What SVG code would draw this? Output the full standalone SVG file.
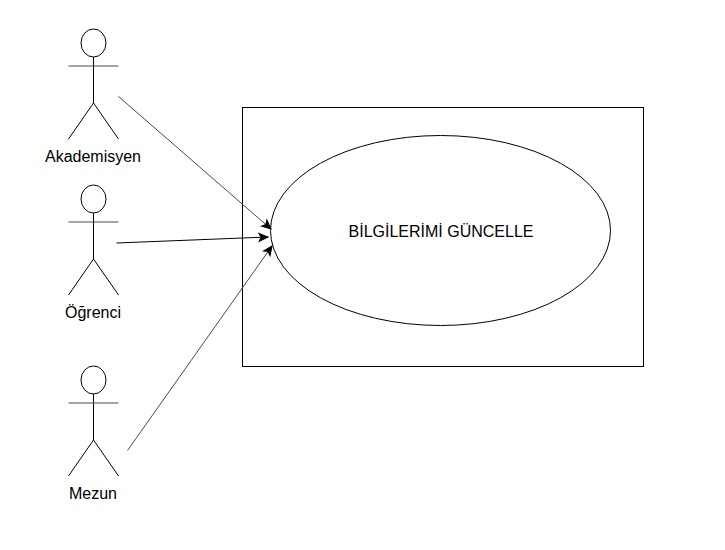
<svg xmlns="http://www.w3.org/2000/svg" width="725" height="550" viewBox="0 0 725 550">
<style>
.s{fill:#fff;stroke:#000;stroke-width:1}
.l{fill:none;stroke:#000;stroke-width:1}
.g{fill:none;stroke:#4a4a4a;stroke-width:1}
.t{font-family:"Liberation Sans",Arial,sans-serif;font-size:16px;fill:#000;text-anchor:middle}
</style>
<defs>
<marker id="a" markerUnits="userSpaceOnUse" markerWidth="12" markerHeight="10" refX="9" refY="4" orient="auto" overflow="visible"><path d="M0 0L9 4L0 8L2.200 4Z" fill="#000" stroke="#000" stroke-width="1"/></marker>
</defs>
<rect width="725" height="550" fill="#fff"/>
<g id="system"><rect class="s" x="242.500" y="107.500" width="401" height="259"/></g>
<g id="usecase"><ellipse class="s" cx="440.500" cy="230.500" rx="170" ry="95"/><text class="t" x="441" y="237">BİLGİLERİMİ GÜNCELLE</text></g>
<g id="akademisyen"><ellipse class="s" cx="93.500" cy="43" rx="12.500" ry="14"/><path class="l" d="M93.500 57V103M68.500 139L93.500 103L118.500 139"/><path class="g" d="M68.500 66H118.500"/><text class="t" x="93" y="162">Akademisyen</text></g>
<g id="ogrenci"><ellipse class="s" cx="93.500" cy="199" rx="12.500" ry="14"/><path class="l" d="M93.500 213V259M68.500 295L93.500 259L118.500 295"/><path class="g" d="M68.500 222H118.500"/><text class="t" x="93" y="318">Öğrenci</text></g>
<g id="mezun"><ellipse class="s" cx="93.500" cy="380" rx="12.500" ry="14"/><path class="l" d="M93.500 394V440M68.500 476L93.500 440L118.500 476"/><path class="g" d="M68.500 403H118.500"/><text class="t" x="93" y="499">Mezun</text></g>
<g id="connectors">
<line class="g" x1="118.500" y1="96.500" x2="271" y2="229" marker-end="url(#a)"/>
<line class="l" x1="116.500" y1="243" x2="268" y2="237" marker-end="url(#a)"/>
<line class="g" x1="127.500" y1="450.500" x2="272" y2="246" marker-end="url(#a)"/>
</g>
</svg>
